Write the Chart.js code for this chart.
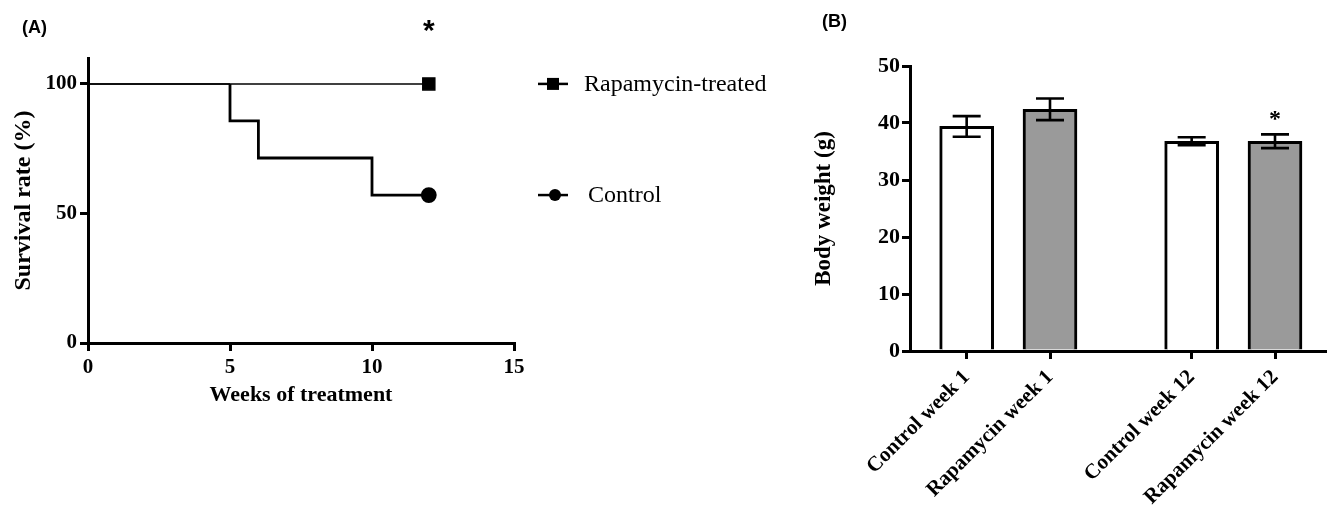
<!DOCTYPE html>
<html>
<head>
<meta charset="utf-8">
<script src="https://cdn.jsdelivr.net/npm/chart.js@4"></script>
<style>
  body { margin: 0; background: #fff; }
  #wrap { position: relative; width: 1330px; height: 508px; }
  canvas { position: absolute; top: 0; }
  .panel { position: absolute; font: bold 18px "Liberation Sans", Arial, sans-serif; color: #000; }
</style>
</head>
<body>
<div id="wrap">
  <canvas id="survivalChart" width="800" height="508" style="left:0"></canvas>
  <canvas id="weightChart" width="530" height="508" style="left:800px"></canvas>
  <div class="panel" style="left:22px;top:17px">(A)</div>
  <div class="panel" style="left:822px;top:11px">(B)</div>
</div>
<script>
// (A) survival, Kaplan-Meier steps (value held until the next week)
const controlWeeks = [0, 5, 6, 10, 12];
const controlSurvival = [100, 100, 85.7, 71.4, 57.1];
const rapaWeeks = [0, 12];
const rapaSurvival = [100, 100];
const survivalXTicks = [0, 5, 10, 15];
const survivalYTicks = [0, 50, 100];
const survivalLegend = ["Rapamycin-treated", "Control"];
const survivalStar = { week: 12, text: "*" };

// (B) body weight
const bwLabels = ["Control week 1", "Rapamycin week 1", "Control week 12", "Rapamycin week 12"];
const bwX = [1, 2, 3.7, 4.7];
const bwMean = [39.4, 42.4, 36.8, 36.8];
const bwSem = [1.8, 1.9, 0.7, 1.2];
const bwYTicks = [0, 10, 20, 30, 40, 50];
const bwStar = { index: 3, value: 41.2, text: "*" };

const serif = "'Liberation Serif', 'Times New Roman', serif";
Chart.defaults.color = "#000";
Chart.defaults.font.family = serif;

function toPoints(xs, ys) {
  return xs.map((x, i) => ({ x: x, y: ys[i] }));
}

function axisStyle() {
  return {
    border: { display: true, color: "#000", width: 3 },
    grid: { display: true, offset: false, drawOnChartArea: false, drawTicks: true, tickLength: 8, color: "#000", lineWidth: 3 }
  };
}

// legend + star for panel A
const survivalExtras = {
  id: "survivalExtras",
  afterDraw(chart) {
    const ctx = chart.ctx;
    const x = chart.scales.x, y = chart.scales.y;
    ctx.save();
    ctx.fillStyle = "#000";
    ctx.strokeStyle = "#000";
    ctx.lineWidth = 2.5;
    const rows = [
      { label: survivalLegend[0], y: y.getPixelForValue(rapaSurvival[rapaSurvival.length - 1]), square: true },
      { label: survivalLegend[1], y: y.getPixelForValue(controlSurvival[controlSurvival.length - 1]), square: false }
    ];
    rows.forEach(r => {
      ctx.beginPath();
      ctx.moveTo(538, r.y);
      ctx.lineTo(568, r.y);
      ctx.stroke();
      if (r.square) {
        ctx.fillRect(547, r.y - 6, 12, 12);
      } else {
        ctx.beginPath();
        ctx.arc(555, r.y, 6, 0, Math.PI * 2);
        ctx.fill();
      }
      ctx.font = "24px " + serif;
      ctx.textAlign = "left";
      ctx.textBaseline = "middle";
      ctx.fillText(r.label, r.square ? 584 : 588, r.y + 1);
    });
    ctx.font = "bold 30px 'Liberation Sans', Arial, sans-serif";
    ctx.textAlign = "center";
    ctx.textBaseline = "middle";
    ctx.fillText(survivalStar.text, x.getPixelForValue(survivalStar.week), 32);
    ctx.restore();
  }
};

new Chart(document.getElementById("survivalChart"), {
  type: "line",
  data: {
    datasets: [
      {
        label: "Rapamycin-treated",
        data: toPoints(rapaWeeks, rapaSurvival),
        borderColor: "#000",
        backgroundColor: "#000",
        borderWidth: 1.5,
        pointStyle: "rect",
        pointRadius: [0, 8.5],
        pointHoverRadius: [0, 8.5]
      },
      {
        label: "Control",
        data: toPoints(controlWeeks, controlSurvival),
        borderColor: "#000",
        backgroundColor: "#000",
        borderWidth: 2.8,
        stepped: "after",
        segment: { borderWidth: c => (c.p0DataIndex === 0 ? 1.5 : 2.8) },
        pointStyle: "circle",
        pointRadius: [0, 0, 0, 0, 6.5],
        pointHoverRadius: [0, 0, 0, 0, 6.5]
      }
    ]
  },
  options: {
    responsive: false,
    animation: false,
    layout: { padding: { left: 0, top: 58, right: 286, bottom: 97 } },
    plugins: { legend: { display: false }, tooltip: { enabled: false } },
    scales: {
      x: {
        type: "linear",
        min: 0,
        max: 15,
        ...axisStyle(),
        afterBuildTicks: s => { s.ticks = survivalXTicks.map(v => ({ value: v })); },
        afterFit: s => { s.height = 68; },
        ticks: { font: { size: 21, weight: "bold" }, padding: 4 },
        title: { display: true, text: "Weeks of treatment", font: { size: 22, weight: "bold" }, padding: { top: 0, bottom: 2 } }
      },
      y: {
        min: 0,
        max: 110,
        ...axisStyle(),
        afterBuildTicks: s => { s.ticks = survivalYTicks.map(v => ({ value: v })); },
        afterFit: s => { s.width = 88; },
        ticks: { font: { size: 21, weight: "bold" }, padding: 3 },
        title: { display: true, text: "Survival rate (%)", font: { size: 24, weight: "bold" }, padding: { top: 9, bottom: 0 } }
      }
    }
  },
  plugins: [survivalExtras]
});

// error bars + star for panel B
const weightExtras = {
  id: "weightExtras",
  afterDatasetsDraw(chart) {
    const ctx = chart.ctx;
    const x = chart.scales.x, y = chart.scales.y;
    ctx.save();
    ctx.strokeStyle = "#000";
    ctx.lineWidth = 2.6;
    bwMean.forEach((m, i) => {
      const px = x.getPixelForValue(bwX[i]);
      const top = y.getPixelForValue(m + bwSem[i]);
      const bot = y.getPixelForValue(m - bwSem[i]);
      ctx.beginPath();
      ctx.moveTo(px, top); ctx.lineTo(px, bot);
      ctx.moveTo(px - 14, top); ctx.lineTo(px + 14, top);
      ctx.moveTo(px - 14, bot); ctx.lineTo(px + 14, bot);
      ctx.stroke();
    });
    ctx.fillStyle = "#000";
    ctx.font = "bold 24px " + serif;
    ctx.textAlign = "center";
    ctx.textBaseline = "middle";
    ctx.fillText(bwStar.text, x.getPixelForValue(bwX[bwStar.index]), y.getPixelForValue(bwStar.value) + 4);
    ctx.restore();
  }
};

new Chart(document.getElementById("weightChart"), {
  type: "bar",
  data: {
    datasets: [{
      label: "Body weight",
      data: toPoints(bwX, bwMean),
      backgroundColor: ["#fff", "#9a9a9a", "#fff", "#9a9a9a"],
      borderColor: "#000",
      borderWidth: 3,
      borderSkipped: "bottom",
      barThickness: 54
    }]
  },
  options: {
    responsive: false,
    animation: false,
    layout: { padding: { left: 0, top: 66, right: 5, bottom: 0 } },
    plugins: { legend: { display: false }, tooltip: { enabled: false } },
    scales: {
      x: {
        type: "linear",
        min: 0.32,
        max: 5.3,
        offset: false,
        ...axisStyle(),
        afterBuildTicks: s => { s.ticks = bwX.map(v => ({ value: v })); },
        afterFit: s => { s.height = 157; },
        ticks: {
          autoSkip: false,
          minRotation: 45,
          maxRotation: 45,
          padding: 6,
          font: { size: 21, weight: "bold" },
          callback: (v, i) => bwLabels[i]
        }
      },
      y: {
        min: 0,
        max: 50,
        ...axisStyle(),
        afterBuildTicks: s => { s.ticks = bwYTicks.map(v => ({ value: v })); },
        afterFit: s => { s.width = 110; },
        ticks: { font: { size: 22, weight: "bold" }, padding: 2 },
        title: { display: true, text: "Body weight (g)", font: { size: 23, weight: "bold" }, padding: { top: 10, bottom: 0 } }
      }
    }
  },
  plugins: [weightExtras]
});
</script>
</body>
</html>
